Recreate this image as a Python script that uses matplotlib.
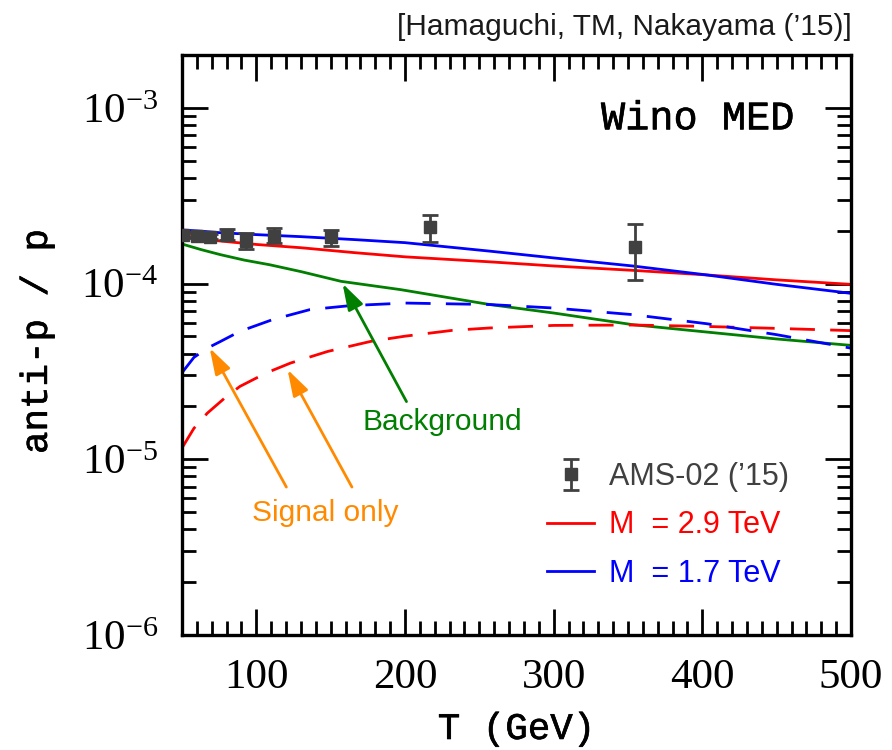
import math

import matplotlib
matplotlib.use("Agg")
import matplotlib.pyplot as plt
import matplotlib.patheffects as pe
from matplotlib.ticker import MultipleLocator, LogLocator, FuncFormatter, NullFormatter

# AMS-02 pbar/p data ('15)
ams_T = [51, 60, 69, 80, 93, 112, 150, 217, 355]
ams_ratio = [1.90e-4, 1.87e-4, 1.85e-4, 1.90e-4, 1.75e-4, 1.86e-4, 1.83e-4, 2.09e-4, 1.61e-4]
ams_err_lo = [0.06e-4, 0.06e-4, 0.06e-4, 0.13e-4, 0.17e-4, 0.15e-4, 0.20e-4, 0.36e-4, 0.56e-4]
ams_err_hi = [0.06e-4, 0.06e-4, 0.06e-4, 0.15e-4, 0.18e-4, 0.22e-4, 0.20e-4, 0.38e-4, 0.58e-4]

# signal + background
tot_T = [50, 62, 75, 100, 130, 166, 200, 257, 300, 353, 403, 450, 500]
tot_m29 = [1.90e-4, 1.80e-4, 1.75e-4, 1.67e-4, 1.60e-4, 1.50e-4, 1.42e-4, 1.33e-4,
           1.26e-4, 1.19e-4, 1.12e-4, 1.05e-4, 0.99e-4]
tot_m17 = [2.02e-4, 1.99e-4, 1.95e-4, 1.90e-4, 1.85e-4, 1.78e-4, 1.71e-4, 1.53e-4,
           1.40e-4, 1.26e-4, 1.12e-4, 0.99e-4, 0.88e-4]

# background only
bg_T = [50, 63, 76, 92, 109, 130, 157, 197, 257, 300, 353, 400, 450, 500]
bg = [1.68e-4, 1.56e-4, 1.46e-4, 1.36e-4, 1.28e-4, 1.17e-4, 1.03e-4, 0.924e-4, 0.76e-4,
      0.68e-4, 0.584e-4, 0.533e-4, 0.484e-4, 0.445e-4]

# signal only
sig17_T = [50, 58, 67, 76, 89, 111, 136, 163, 200, 257, 300, 353, 403, 450, 500]
sig_m17 = [3.11e-5, 3.8e-5, 4.29e-5, 4.69e-5, 5.35e-5, 6.24e-5, 7.11e-5, 7.49e-5,
           7.75e-5, 7.6e-5, 7.26e-5, 6.66e-5, 5.91e-5, 5.12e-5, 4.29e-5]
sig29_T = [50, 58, 67, 80, 89, 107, 123, 148, 177, 200, 232, 257, 300, 353, 400, 450, 500]
sig_m29 = [1.16e-5, 1.5e-5, 1.83e-5, 2.28e-5, 2.60e-5, 3.11e-5, 3.53e-5, 4.11e-5, 4.69e-5,
           5.02e-5, 5.42e-5, 5.59e-5, 5.78e-5, 5.81e-5, 5.71e-5, 5.56e-5, 5.40e-5]

RED = "#ff0000"
BLUE = "#0000ff"
GREEN = "#007f00"
ORANGE = "#ff8a00"
GRAY = "#404040"

plt.rcParams["font.family"] = "Liberation Mono"

# thicken the thin courier strokes a little
thick = [pe.withStroke(linewidth=0.45, foreground="black")]

fig = plt.figure(figsize=(8.92, 7.5), dpi=100)
ax = fig.add_axes([182 / 892, 1 - 635 / 750, 669 / 892, 580 / 750])

ax.plot(tot_T, tot_m29, color=RED, lw=2, label="M  = 2.9 TeV")
ax.plot(tot_T, tot_m17, color=BLUE, lw=2, label="M  = 1.7 TeV")
ax.plot(bg_T, bg, color=GREEN, lw=2)
ax.plot(sig29_T, sig_m29, color=RED, lw=2, dashes=(9, 5.5))
ax.plot(sig17_T, sig_m17, color=BLUE, lw=2, dashes=(9, 5.5))

eb = ax.errorbar(ams_T, ams_ratio, yerr=[ams_err_lo, ams_err_hi], fmt="s", color=GRAY,
                 ms=9, capsize=6, elinewidth=2, capthick=2, zorder=5, label="AMS-02 (\u201915)")

ax.set_yscale("log")
ax.set_xlim(50, 500)
ax.set_ylim(1e-6, 2e-3)

ax.xaxis.set_major_locator(MultipleLocator(100))
ax.xaxis.set_minor_locator(MultipleLocator(10))
ax.yaxis.set_major_locator(LogLocator(base=10))
ax.yaxis.set_minor_locator(LogLocator(base=10, subs=range(2, 10)))
ax.yaxis.set_minor_formatter(NullFormatter())
ax.yaxis.set_major_formatter(FuncFormatter(lambda v, p: r"$\mathregular{10^{%d}}$" % round(math.log10(v))))

ax.tick_params(which="both", direction="in", top=True, right=True, width=2,
               labelsize=31, labelfontfamily="Liberation Serif", colors="black")
ax.tick_params(which="major", length=19)
ax.tick_params(which="minor", length=10)
ax.tick_params(axis="x", pad=17)
ax.tick_params(axis="y", pad=17)
for sp in ax.spines.values():
    sp.set_linewidth(2.4)

ax.set_xlabel("T (GeV)", fontsize=27, path_effects=thick)
ax.set_ylabel("anti-p / p", fontsize=27, path_effects=thick)
ax.xaxis.set_label_coords(0.5, -0.131)
ax.yaxis.set_label_coords(-0.19, 0.506)

ax.text(0.9148, 0.8719, "Wino MED", transform=ax.transAxes, ha="right", va="baseline",
        fontsize=29, path_effects=thick)
fig.text(852 / 892, 1 - 35 / 750, "[Hamaguchi, TM, Nakayama (\u201915)]", ha="right",
         va="baseline", fontsize=21.5, family="Liberation Sans", color="#1a1a1a")

# annotations
arrow_style = "-|>,head_length=0.8,head_width=0.25"
ax.annotate("", xy=(158, 1.0e-4), xytext=(201, 2.13e-5),
            arrowprops=dict(arrowstyle=arrow_style, color=GREEN, lw=2, mutation_scale=20,
                            shrinkA=0, shrinkB=0))
ax.text(225, 1.46e-5, "Background", color=GREEN, ha="center", va="baseline",
        fontsize=21.5, family="Liberation Sans")
ax.annotate("", xy=(68.6, 4.3e-5), xytext=(120.2, 6.95e-6),
            arrowprops=dict(arrowstyle=arrow_style, color=ORANGE, lw=2, mutation_scale=20,
                            shrinkA=0, shrinkB=0))
ax.annotate("", xy=(121, 3.24e-5), xytext=(164.3, 6.95e-6),
            arrowprops=dict(arrowstyle=arrow_style, color=ORANGE, lw=2, mutation_scale=20,
                            shrinkA=0, shrinkB=0))
ax.text(146.4, 4.43e-6, "Signal only", color=ORANGE, ha="center", va="baseline",
        fontsize=21.5, family="Liberation Sans")

handles, labels = ax.get_legend_handles_labels()
order = [labels.index("AMS-02 (\u201915)"), labels.index("M  = 2.9 TeV"),
         labels.index("M  = 1.7 TeV")]
leg = ax.legend([handles[i] for i in order], [labels[i] for i in order],
                loc="upper left", bbox_to_anchor=(0.5456, 0.298), frameon=False,
                borderaxespad=0, borderpad=0, handlelength=1.54, handletextpad=0.5,
                labelspacing=0.6, prop=dict(family="Liberation Sans", size=22))
for txt, c in zip(leg.get_texts(), [GRAY, RED, BLUE]):
    txt.set_color(c)

fig.savefig("out.png", dpi=100)
